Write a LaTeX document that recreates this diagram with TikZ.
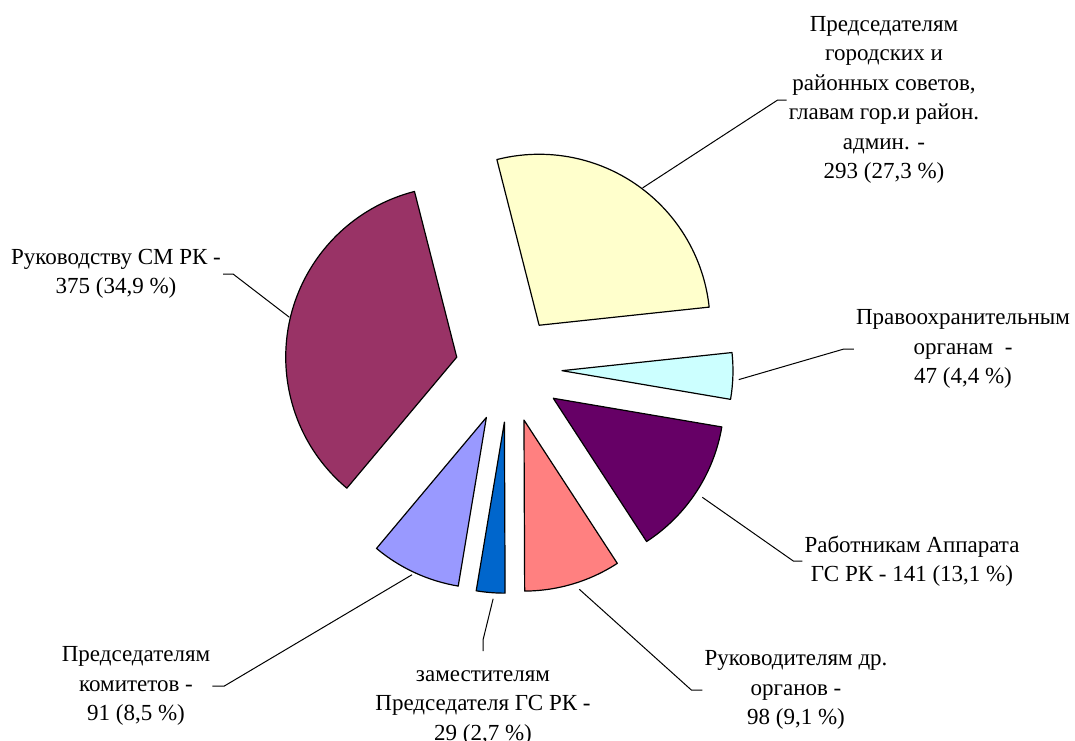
\documentclass[tikz,border=0pt]{standalone}
\usepackage{fontspec}
\setmainfont{Liberation Serif}
\usetikzlibrary{calc}
\definecolor{cYel}{HTML}{FFFFCC}
\definecolor{cCya}{HTML}{CCFFFF}
\definecolor{cPur}{HTML}{660066}
\definecolor{cPnk}{HTML}{FF8080}
\definecolor{cBlu}{HTML}{0066CC}
\definecolor{cLav}{HTML}{9999FF}
\definecolor{cMar}{HTML}{993366}
\begin{document}
\begin{tikzpicture}[x=1pt,y=1pt,
  slice/.style={draw=black, line width=1.2pt, line join=round},
  lab/.style={font=\fontsize{23}{29.5}\selectfont, align=center, inner sep=2pt},
  leader/.style={draw=black, line width=1pt}]
\useasboundingbox (0,0) rectangle (1075,-740);
\coordinate (O) at (508.7,-369);
% exploded slice apexes
\coordinate (pY) at ($(O)+(55.2:53.3)$);
\coordinate (pC) at ($(O)+(-1.79:53.3)$);
\coordinate (pP) at ($(O)+(-33.29:53.3)$);
\coordinate (pK) at ($(O)+(-73.35:53.3)$);
\coordinate (pB) at ($(O)+(-94.63:53.3)$);
\coordinate (pL) at ($(O)+(-114.74:53.3)$);
\coordinate (pM) at ($(O)+(167.16:53.3)$);
% slices
\draw[slice, fill=cYel] (pY) -- ++(104.3:171) arc[start angle=104.3, end angle=6.09, radius=171pt] -- cycle;
\draw[slice, fill=cCya] (pC) -- ++(6.09:171) arc[start angle=6.09, end angle=-9.66, radius=171pt] -- cycle;
\draw[slice, fill=cPur] (pP) -- ++(-9.66:171) arc[start angle=-9.66, end angle=-56.92, radius=171pt] -- cycle;
\draw[slice, fill=cPnk] (pK) -- ++(-56.92:171) arc[start angle=-56.92, end angle=-89.77, radius=171pt] -- cycle;
\draw[slice, fill=cBlu] (pB) -- ++(-89.77:171) arc[start angle=-89.77, end angle=-99.49, radius=171pt] -- cycle;
\draw[slice, fill=cLav] (pL) -- ++(-99.49:171) arc[start angle=-99.49, end angle=-129.99, radius=171pt] -- cycle;
\draw[slice, fill=cMar] (pM) -- ++(-129.99:171) arc[start angle=-129.99, end angle=-255.69, radius=171pt] -- cycle;
% leader start points
\coordinate (sY) at ($(pY)+(53:172)$);
\coordinate (sC) at ($(pC)+(-2.9:177)$);
\coordinate (sP) at ($(pP)+(-33.6:179)$);
\coordinate (sK) at ($(pK)+(-71.9:178)$);
\coordinate (sB) at ($(pB)+(-93.65:177)$);
\coordinate (sL) at ($(pL)+(-115.3:174)$);
\coordinate (sM) at ($(pM)+(166.6:172)$);
% labels
\node[lab] (lY) at (884,-100) {Председателям\\городских и\\районных советов,\\главам гор.и район.\\админ. -\\293 (27,3 \%)};
\node[lab] (lC) at (963,-349) {Правоохранительным\\органам \ -\\47 (4,4 \%)};
\node[lab] (lP) at (912,-561) {Работникам Аппарата\\ГС РК - 141 (13,1 \%)};
\node[lab] (lK) at (796,-690) {Руководителям др.\\органов -\\98 (9,1 \%)};
\node[lab, anchor=north] (lB) at (483,-668) {заместителям\\Председателя ГС РК -\\29 (2,7 \%)};
\node[lab] (lL) at (136,-686) {Председателям\\комитетов -\\91 (8,5 \%)};
\node[lab] (lM) at (116,-274) {Руководству СМ РК -\\375 (34,9 \%)};
% leaders
\draw[leader] (sY) -- ($(lY.west)+(-9,0)$) -- (lY.west);
\draw[leader] (sC) -- ($(lC.west)+(-10,0)$) -- (lC.west);
\draw[leader] (sP) -- ($(lP.west)+(-9,0)$) -- (lP.west);
\draw[leader] (sK) -- ($(lK.west)+(-11,0)$) -- (lK.west);
\draw[leader] (sB) -- ($(lB.north)+(0,28)$) -- ($(lB.north)+(0,17)$);
\draw[leader] (sL) -- ($(lL.east)+(12,0)$) -- (lL.east);
\draw[leader] (sM) -- ($(lM.east)+(10,0)$) -- (lM.east);
\end{tikzpicture}
\end{document}
